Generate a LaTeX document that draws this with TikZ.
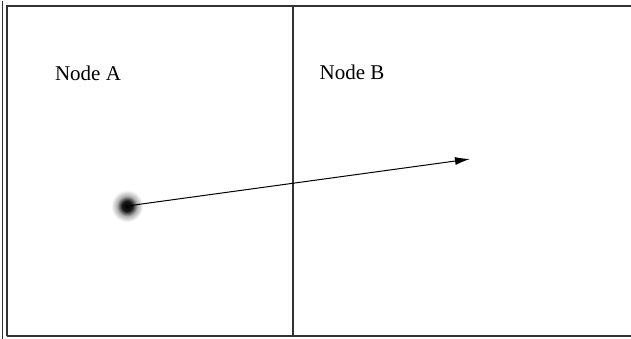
\documentclass[tikz,border=0pt]{standalone}
\usepackage{fontspec}
\setmainfont{Liberation Serif}
\usetikzlibrary{arrows.meta}
\pgfdeclareradialshading{softdot}{\pgfpoint{0bp}{0bp}}{%
  color(0bp)=(black); color(8bp)=(black!90); color(16bp)=(black!30);
  color(25bp)=(white); color(50bp)=(white)}
\tikzset{
  frame/.style={line width=1.4pt, draw=black!80},
  label/.style={font=\fontsize{21}{24}\selectfont, inner sep=0pt},
  link/.style={line width=1pt, -{Latex[length=15pt,width=8pt]}},
}
\begin{document}
\begin{tikzpicture}[x=1pt,y=-1pt]
  \useasboundingbox (0,0) rectangle (631,339);
  \fill[white] (0,0) rectangle (631,339);
  % outer left double rule and the frame
  \draw[frame] (2.5,1) -- (2.5,339);
  \draw[frame] (7,336) -- (7,6) -- (631,6);
  \draw[frame] (7,336) -- (631,336);
  % partition between the two regions
  \draw[frame, line width=1.2pt] (293,6) -- (293,336);
  % region labels
  \node[label] (a) at (88,73) {Node A};
  \node[label] (b) at (352,72) {Node B};
  % soft point and link
  \shade[shading=softdot] (127,206) circle (16);
  \coordinate (p) at (127,206);
  \coordinate (q) at (470,159);
  \draw[link] (p) -- (q);
\end{tikzpicture}
\end{document}
